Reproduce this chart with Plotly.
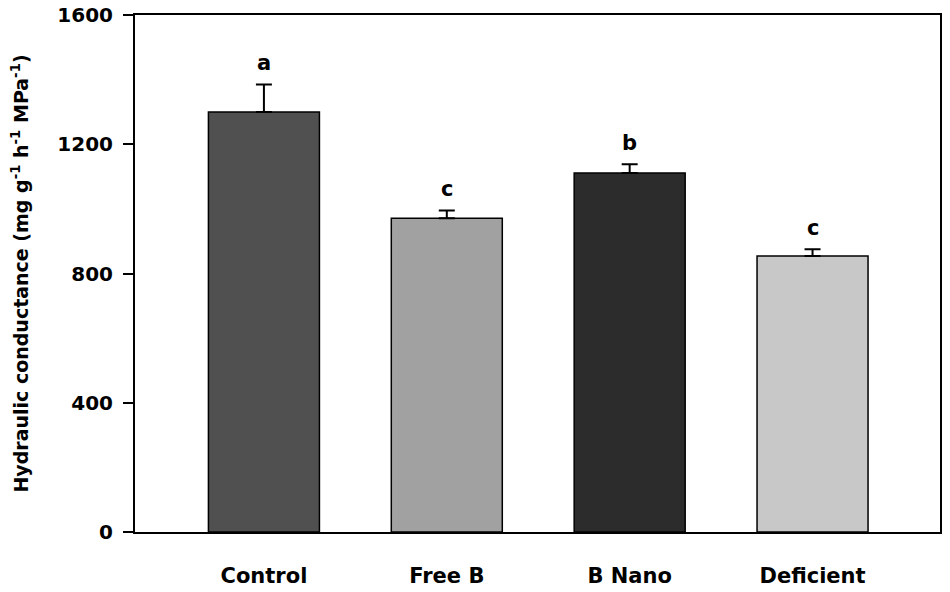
import plotly.graph_objects as go

treatments = ["Control", "Free B", "B Nano", "Deficient"]
conductance = [1300, 971, 1111, 854]
error_up = [85, 24, 27, 21]
letters = ["a", "c", "b", "c"]
bar_colors = ["#505050", "#a1a1a1", "#2c2c2c", "#c8c8c8"]

font = "DejaVu Sans, Verdana, sans-serif"

fig = go.Figure()
fig.add_trace(go.Bar(
    x=treatments,
    y=conductance,
    width=0.607,
    marker=dict(color=bar_colors, line=dict(color="black", width=1.5)),
    error_y=dict(type="data", array=error_up, symmetric=False, arrayminus=[0] * 4,
                 color="black", thickness=2, width=8),
    showlegend=False,
))

# significance letters above the error bars
for t, v, e, l in zip(treatments, conductance, error_up, letters):
    fig.add_annotation(x=t, y=v + e, text="<b>%s</b>" % l, showarrow=False,
                       yshift=21, font=dict(family=font, size=21, color="black"))

# page body adds 8px offset, margins compensate
fig.update_layout(
    width=950, height=592,
    margin=dict(l=127, r=18, t=7, b=68),
    plot_bgcolor="white", paper_bgcolor="white",
    font=dict(family=font, size=20, color="black"),
)
fig.update_xaxes(
    range=[-0.705, 3.697], automargin=False,
    showline=True, linecolor="black", linewidth=2, mirror=True,
    ticks="", ticklabelstandoff=24,
    tickfont=dict(family=font, size=21, weight="bold"),
)
fig.update_yaxes(
    range=[0, 1600], tickvals=[0, 400, 800, 1200, 1600], automargin=False,
    showline=True, linecolor="black", linewidth=2, mirror=True,
    showgrid=False, zeroline=False,
    ticks="outside", ticklen=10, tickwidth=2, tickcolor="black",
    ticklabelstandoff=6, ticklabeloverflow="allow",
    tickfont=dict(family=font, size=20, weight="bold"),
    title=dict(text="<b>Hydraulic conductance (mg g<sup>-1</sup> h<sup>-1</sup> MPa<sup>-1</sup>)</b>",
               font=dict(family=font, size=19), standoff=26),
)

fig.write_html("out.html")
